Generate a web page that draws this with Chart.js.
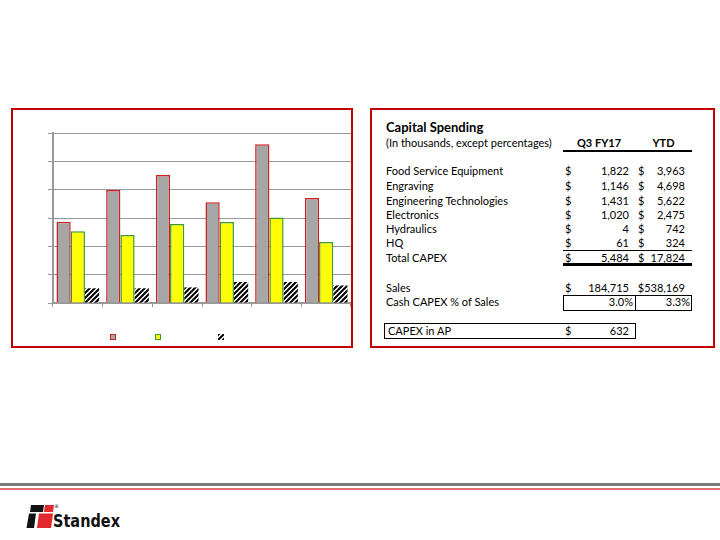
<!DOCTYPE html>
<html>
<head>
<meta charset="utf-8">
<script src="https://cdn.jsdelivr.net/npm/chart.js@4/dist/chart.umd.min.js"></script>
<style>
  body { margin: 0; width: 720px; height: 540px; background: #fff; position: relative; overflow: hidden; font-family: Lato, "Noto Sans", sans-serif; }
  .box { position: absolute; border: 2px solid #C00000; box-sizing: border-box; }
  #chartWrap { position: absolute; left: 13px; top: 110px; width: 338px; height: 236px; }
  .t { position: absolute; font-size: 11px; line-height: 14px; white-space: nowrap; color: #000; }
  .r { text-align: right; }
  .b { font-weight: bold; }
  .ln { position: absolute; background: #000; }
  .cell { position: absolute; border: 1px solid #000; box-sizing: border-box; }
</style>
</head>
<body>

<div class="box" style="left:11px; top:108px; width:342px; height:240px;"></div>
<div class="box" style="left:370px; top:108px; width:345px; height:240px;"></div>

<div id="chartWrap"><canvas id="capexChart"></canvas></div>

<!-- table -->
<div class="t b" style="left:386px; top:119px; font-size:13px; line-height:16px;">Capital Spending</div>
<div class="t" style="left:386px; top:136px;">(In thousands, except percentages)</div>
<div class="t b" style="left:563px; width:72px; top:136px; text-align:center;">Q3 FY17</div>
<div class="t b" style="left:635px; width:57px; top:136px; text-align:center;">YTD</div>
<div class="ln" style="left:563px; top:150px; width:129px; height:1.5px;"></div>

<div id="rows"></div>

<div class="ln" style="left:563px; top:250px; width:129px; height:1px;"></div>
<div class="ln" style="left:563px; top:263px; width:129px; height:3px;"></div>

<div class="cell" style="left:563px; top:295px; width:73px; height:16px;"></div>
<div class="cell" style="left:635px; top:295px; width:57px; height:16px;"></div>
<div class="cell" style="left:384px; top:323px; width:252px; height:16px;"></div>

<!-- footer -->
<div style="position:absolute; left:0; top:483px; width:720px; height:3px; background:#7a7a7a;"></div>
<div style="position:absolute; left:0; top:488px; width:720px; height:2px; background:#e27070;"></div>
<svg style="position:absolute; left:0; top:495px;" width="140" height="45">
  <polygon points="31,10 44,10 43,17 30,17" fill="#111"/>
  <polygon points="45,10 54,10 53,17 44,17" fill="#e0282e"/>
  <polygon points="29,18.5 36,18.5 34,33 26.5,33" fill="#111"/>
  <polygon points="39,18.5 53,18.5 51,33 37,33" fill="#e0282e"/>
  <text x="54" y="13" font-size="5" font-family="DejaVu Sans">®</text>
  <text x="53" y="32" font-size="17" font-weight="bold" textLength="67" lengthAdjust="spacingAndGlyphs"
        font-family="'DejaVu Sans Condensed','Liberation Sans',sans-serif" fill="#111">Standex</text>
</svg>

<script>
// chart data (values in grid units)
const categories = ['1', '2', '3', '4', '5', '6'];
const seriesGray = [2.87, 3.99, 4.52, 3.56, 5.6, 3.71];
const seriesYellow = [2.53, 2.4, 2.79, 2.86, 3.02, 2.15];
const seriesHatched = [0.52, 0.52, 0.55, 0.74, 0.74, 0.62];
const yTicks = [0, 1, 2, 3, 4, 5, 6];

// table data
const rowLabels = ['Food Service Equipment', 'Engraving', 'Engineering Technologies', 'Electronics', 'Hydraulics', 'HQ', 'Total CAPEX'];
const q3Values = ['1,822', '1,146', '1,431', '1,020', '4', '61', '5,484'];
const ytdValues = ['3,963', '4,698', '5,622', '2,475', '742', '324', '17,824'];
const salesRow = ['Sales', '184,715', '$538,169'];
const pctRow = ['Cash CAPEX % of Sales', '3.0%', '3.3%'];
const apRow = ['CAPEX in AP', '632'];

function addText(txt, left, top, cls, width) {
    let d = document.createElement('div');
    d.className = 't ' + (cls || '');
    d.style.left = left + 'px';
    d.style.top = top + 'px';
    if (width) d.style.width = width + 'px';
    d.textContent = txt;
    document.getElementById('rows').appendChild(d);
}

let rowTops = [164, 179, 194, 208, 222, 236, 251];
for (let i = 0; i < rowLabels.length; i++) {
    addText(rowLabels[i], 386, rowTops[i]);
    addText('$', 565, rowTops[i]);
    addText(q3Values[i], 569, rowTops[i], 'r', 60);
    addText('$', 638, rowTops[i]);
    addText(ytdValues[i], 640, rowTops[i], 'r', 45);
}
addText(salesRow[0], 386, 281);
addText('$', 565, 281);
addText(salesRow[1], 569, 281, 'r', 60);
addText(salesRow[2], 630, 281, 'r', 55);
addText(pctRow[0], 386, 295);
addText(pctRow[1], 573, 295, 'r', 60);
addText(pctRow[2], 630, 295, 'r', 60);
addText(apRow[0], 388, 324);
addText('$', 565, 324);
addText(apRow[1], 569, 324, 'r', 60);

function hatchPattern() {
    let c = document.createElement('canvas');
    c.width = 5;
    c.height = 5;
    let g = c.getContext('2d');
    g.fillStyle = '#fff';
    g.fillRect(0, 0, 5, 5);
    g.strokeStyle = '#000';
    g.lineWidth = 2;
    g.beginPath();
    g.moveTo(-1, 6); g.lineTo(6, -1);
    g.moveTo(-1, 1); g.lineTo(1, -1);
    g.moveTo(4, 6); g.lineTo(6, 4);
    g.stroke();
    return g.createPattern(c, 'repeat');
}

// small legend swatches, no text in the original
const swatchPlugin = {
    id: 'swatches',
    afterDraw(chart) {
        let ctx = chart.ctx;
        let xs = [97, 142, 205];
        let y = 224;
        chart.data.datasets.forEach(function(ds, i) {
            ctx.save();
            ctx.fillStyle = ds.backgroundColor;
            ctx.fillRect(xs[i], y, 6, 6);
            if (ds.borderWidth) {
                ctx.strokeStyle = ds.borderColor;
                ctx.lineWidth = 1;
                ctx.strokeRect(xs[i] + 0.5, y + 0.5, 5, 5);
            }
            ctx.restore();
        });
    }
};

const ctx = document.getElementById('capexChart');
new Chart(ctx, {
    type: 'bar',
    data: {
        labels: categories,
        datasets: [
            { label: '', data: seriesGray, backgroundColor: '#A6A6A6', borderColor: '#D02020', borderWidth: 1.5 },
            { label: '', data: seriesYellow, backgroundColor: '#FFFF00', borderColor: '#3C9A2E', borderWidth: 1.5 },
            { label: '', data: seriesHatched, backgroundColor: hatchPattern(), borderWidth: 0 }
        ]
    },
    options: {
        responsive: true,
        maintainAspectRatio: false,
        animation: false,
        datasets: { bar: { categoryPercentage: 0.86, barPercentage: 1 } },
        layout: { padding: { left: 35, top: 23, right: 0, bottom: 39 } },
        plugins: { legend: { display: false }, tooltip: { enabled: false } },
        scales: {
            x: {
                ticks: { display: false },
                grid: { drawOnChartArea: false, tickLength: 4, color: '#999' },
                border: { color: '#999', width: 1.5 }
            },
            y: {
                min: yTicks[0],
                max: yTicks[yTicks.length - 1],
                afterBuildTicks: function(axis) { axis.ticks = yTicks.map(v => ({ value: v })); },
                ticks: { display: false },
                grid: { tickLength: 5, color: '#999' },
                border: { color: '#999', width: 2 }
            }
        }
    },
    plugins: [swatchPlugin]
});
</script>
</body>
</html>
